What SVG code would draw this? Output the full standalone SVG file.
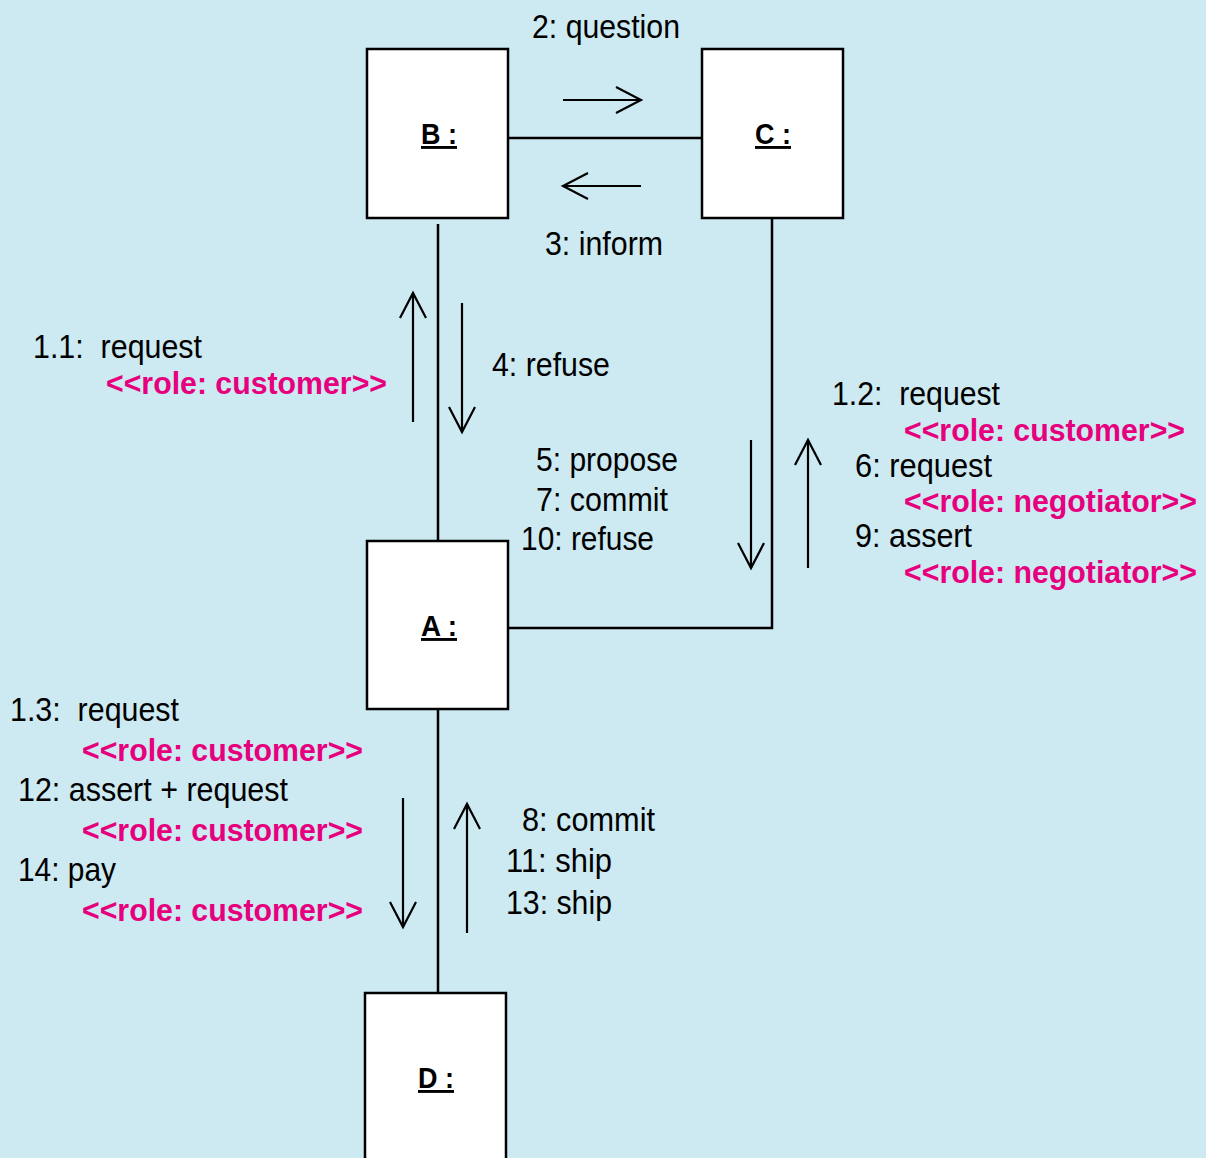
<svg xmlns="http://www.w3.org/2000/svg" width="1206" height="1158" viewBox="0 0 1206 1158">
<style>
.box{fill:#fff;stroke:#000;stroke-width:2.5}
.ln{fill:none;stroke:#000;stroke-width:2.5}
.ar{fill:none;stroke:#000;stroke-width:2.2}
.t{font-family:"Liberation Sans",Arial,sans-serif;font-size:33px;fill:#000}
.p{font-family:"Liberation Sans",Arial,sans-serif;font-size:31px;font-weight:bold;fill:#E6007E}
.lb{font-family:"Liberation Sans",Arial,sans-serif;font-size:29px;font-weight:bold;fill:#000;text-decoration:underline}
</style>
<defs>
<marker id="v" viewBox="0 0 30 30" refX="26" refY="15" markerWidth="30" markerHeight="30" markerUnits="userSpaceOnUse" orient="auto">
<path d="M1,2 L26,15 L1,28" fill="none" stroke="#000" stroke-width="2.2"/>
</marker>
</defs>
<rect width="1206" height="1158" fill="#CDE9F1"/>
<g id="connectors">
<line class="ln" x1="508" y1="138" x2="702" y2="138"/>
<line class="ln" x1="438" y1="224" x2="438" y2="541"/>
<polyline class="ln" points="772,215 772,628 508,628"/>
<line class="ln" x1="438" y1="709" x2="438" y2="993"/>
<line class="ar" x1="563" y1="100" x2="641" y2="100" marker-end="url(#v)"/>
<line class="ar" x1="641" y1="186" x2="563" y2="186" marker-end="url(#v)"/>
<line class="ar" x1="413" y1="422" x2="413" y2="293" marker-end="url(#v)"/>
<line class="ar" x1="462" y1="303" x2="462" y2="432" marker-end="url(#v)"/>
<line class="ar" x1="751" y1="440" x2="751" y2="568" marker-end="url(#v)"/>
<line class="ar" x1="808" y1="568" x2="808" y2="440" marker-end="url(#v)"/>
<line class="ar" x1="403" y1="798" x2="403" y2="927" marker-end="url(#v)"/>
<line class="ar" x1="467" y1="933" x2="467" y2="804" marker-end="url(#v)"/>
</g>
<g id="nodeB"><rect class="box" x="367" y="49" width="141" height="169"/><text class="lb" x="421" y="144" textLength="36" lengthAdjust="spacingAndGlyphs">B :</text></g>
<g id="nodeC"><rect class="box" x="702" y="49" width="141" height="169"/><text class="lb" x="755" y="144" textLength="36" lengthAdjust="spacingAndGlyphs">C :</text></g>
<g id="nodeA"><rect class="box" x="367" y="541" width="141" height="168"/><text class="lb" x="421" y="636" textLength="36" lengthAdjust="spacingAndGlyphs">A :</text></g>
<g id="nodeD"><rect class="box" x="365" y="993" width="141" height="175"/><text class="lb" x="418" y="1088" textLength="36" lengthAdjust="spacingAndGlyphs">D :</text></g>
<g id="labels">
<text class="t" x="532" y="38" textLength="148" lengthAdjust="spacingAndGlyphs">2: question</text>
<text class="t" x="545" y="255" textLength="118" lengthAdjust="spacingAndGlyphs">3: inform</text>
<text class="t" x="33" y="358" textLength="169" lengthAdjust="spacingAndGlyphs" xml:space="preserve">1.1:  request</text>
<text class="p" x="106" y="394" textLength="281" lengthAdjust="spacingAndGlyphs">&lt;&lt;role: customer&gt;&gt;</text>
<text class="t" x="492" y="376" textLength="118" lengthAdjust="spacingAndGlyphs">4: refuse</text>
<text class="t" x="536" y="471" textLength="142" lengthAdjust="spacingAndGlyphs">5: propose</text>
<text class="t" x="536" y="511" textLength="132" lengthAdjust="spacingAndGlyphs">7: commit</text>
<text class="t" x="521" y="550" textLength="133" lengthAdjust="spacingAndGlyphs">10: refuse</text>
<text class="t" x="832" y="405" textLength="168" lengthAdjust="spacingAndGlyphs" xml:space="preserve">1.2:  request</text>
<text class="p" x="904" y="441" textLength="281" lengthAdjust="spacingAndGlyphs">&lt;&lt;role: customer&gt;&gt;</text>
<text class="t" x="855" y="477" textLength="137" lengthAdjust="spacingAndGlyphs">6: request</text>
<text class="p" x="904" y="512" textLength="293" lengthAdjust="spacingAndGlyphs">&lt;&lt;role: negotiator&gt;&gt;</text>
<text class="t" x="855" y="547" textLength="117" lengthAdjust="spacingAndGlyphs">9: assert</text>
<text class="p" x="904" y="583" textLength="293" lengthAdjust="spacingAndGlyphs">&lt;&lt;role: negotiator&gt;&gt;</text>
<text class="t" x="10" y="721" textLength="169" lengthAdjust="spacingAndGlyphs" xml:space="preserve">1.3:  request</text>
<text class="p" x="82" y="761" textLength="281" lengthAdjust="spacingAndGlyphs">&lt;&lt;role: customer&gt;&gt;</text>
<text class="t" x="18" y="801" textLength="270" lengthAdjust="spacingAndGlyphs">12: assert + request</text>
<text class="p" x="82" y="841" textLength="281" lengthAdjust="spacingAndGlyphs">&lt;&lt;role: customer&gt;&gt;</text>
<text class="t" x="18" y="881" textLength="98" lengthAdjust="spacingAndGlyphs">14: pay</text>
<text class="p" x="82" y="921" textLength="281" lengthAdjust="spacingAndGlyphs">&lt;&lt;role: customer&gt;&gt;</text>
<text class="t" x="522" y="831" textLength="133" lengthAdjust="spacingAndGlyphs">8: commit</text>
<text class="t" x="506" y="872" textLength="106" lengthAdjust="spacingAndGlyphs">11: ship</text>
<text class="t" x="506" y="914" textLength="106" lengthAdjust="spacingAndGlyphs">13: ship</text>
</g>
</svg>
